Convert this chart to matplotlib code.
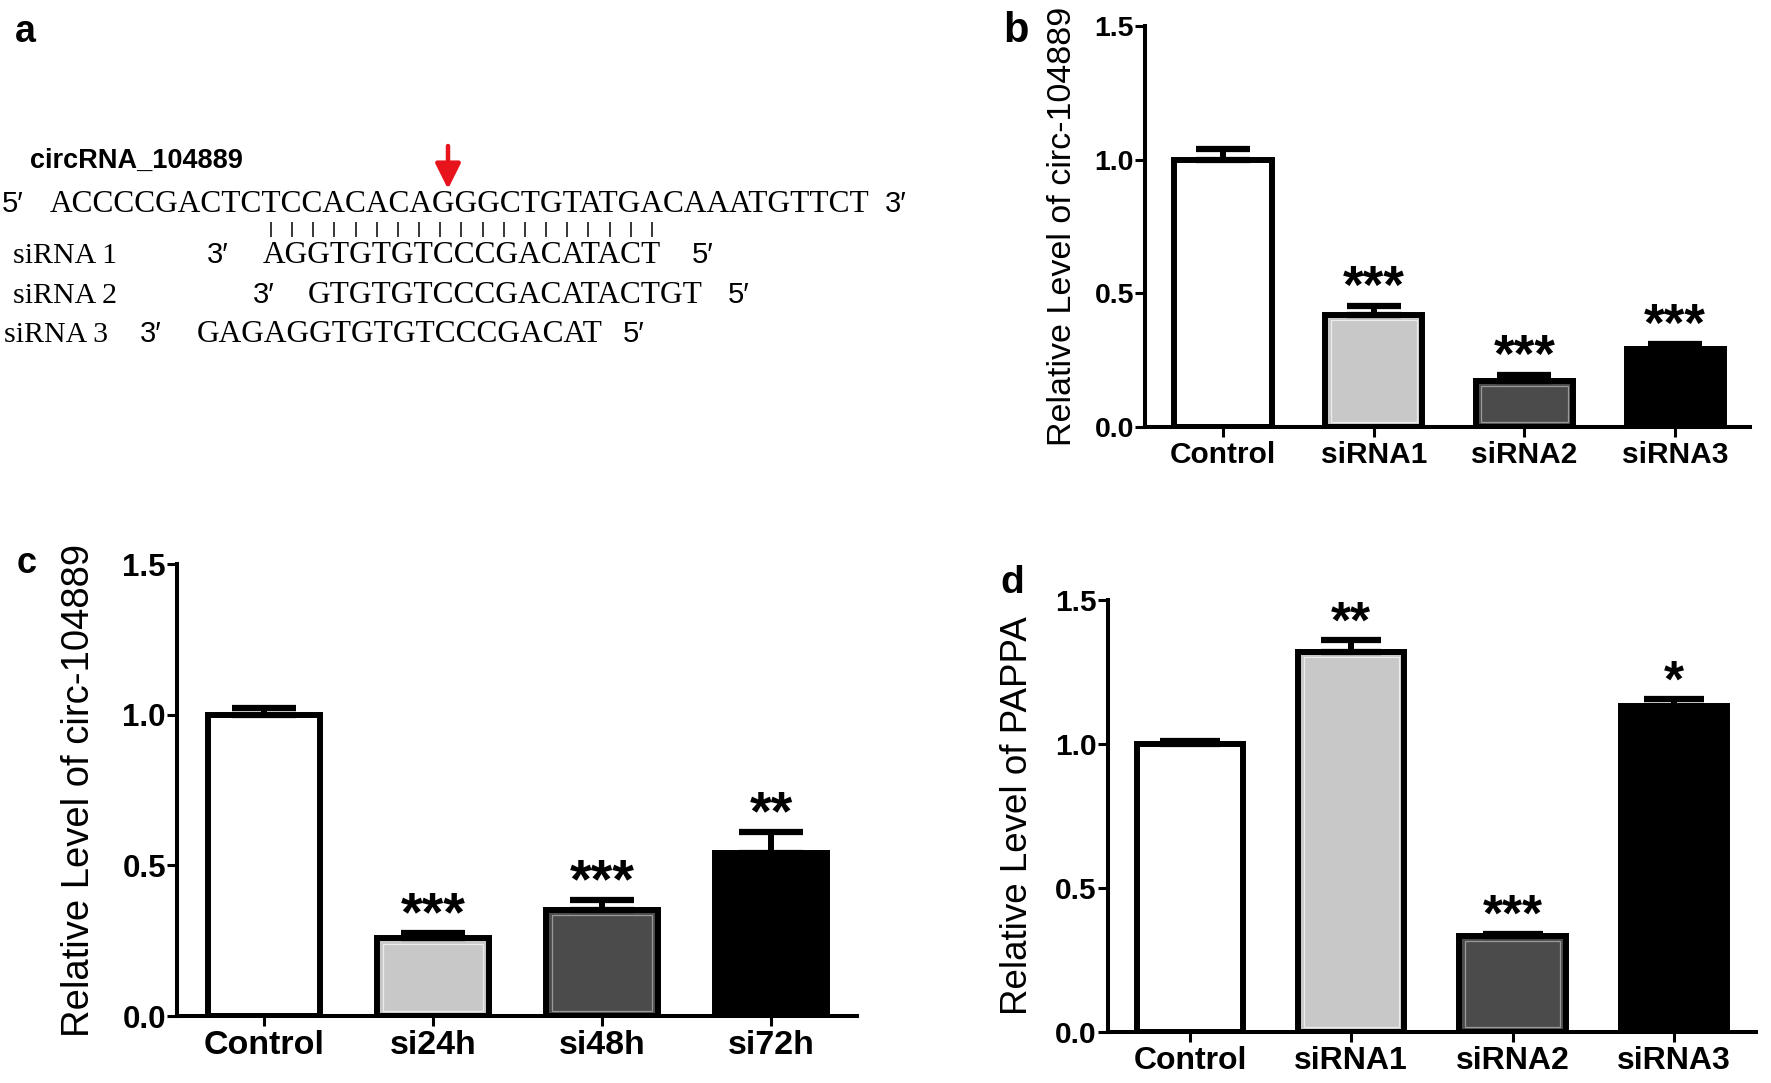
import numpy as np
import matplotlib
matplotlib.use('Agg')
import matplotlib.pyplot as plt
from matplotlib.ticker import FormatStrFormatter

plt.rcParams['font.family'] = ['Liberation Sans', 'DejaVu Sans']

W, H = 1771, 1083

# panel a: sequences
target_seq = 'ACCCCGACTCTCCACACAGGGCTGTATGACAAATGTTCT'
target_name = 'circRNA_104889'
sirna_names = ['siRNA 1', 'siRNA 2', 'siRNA 3']
sirna_seqs = ['AGGTGTGTCCCGACATACT', 'GTGTGTCCCGACATACTGT', 'GAGAGGTGTGTCCCGACAT']

# panel b: knockdown by each siRNA
b_labels = ['Control', 'siRNA1', 'siRNA2', 'siRNA3']
b_means = [1.00, 0.42, 0.173, 0.291]
b_errs = [0.04, 0.033, 0.023, 0.02]
b_stars = ['', '***', '***', '***']

# panel c: knockdown over time
c_labels = ['Control', 'si24h', 'si48h', 'si72h']
c_means = [1.00, 0.258, 0.352, 0.542]
c_errs = [0.022, 0.018, 0.032, 0.07]
c_stars = ['', '***', '***', '**']

# panel d: PAPPA level
d_labels = ['Control', 'siRNA1', 'siRNA2', 'siRNA3']
d_means = [1.00, 1.32, 0.334, 1.133]
d_errs = [0.01, 0.04, 0.007, 0.022]
d_stars = ['', '**', '***', '*']

bar_colors = ['white', '#c8c8c8', '#4b4b4b', 'black']
# faint inner outline seen inside the grey bars
inner_colors = ['none', '#ececec', '#9a9a9a', 'none']

fig = plt.figure(figsize=(W / 100, H / 100), dpi=100)

# pixel-space overlay for panel a and panel letters
ov = fig.add_axes([0, 0, 1, 1])
ov.set_xlim(0, W)
ov.set_ylim(H, 0)
ov.axis('off')


def px_axes(left, right, top, bottom):
    return fig.add_axes([left / W, 1 - bottom / H, (right - left) / W, (bottom - top) / H])


def bar_panel(ax, labels, means, errs, stars, xlim, width, capsize,
              ytick_fs, xtick_fs, ylabel_fs, ylabel, star_fs, label_x):
    x = np.arange(len(labels))
    ax.set_xlim(*xlim)
    ax.set_ylim(0, 1.5)
    ax.bar(x, means, width=width, color=bar_colors, edgecolor='black',
           linewidth=4.3, zorder=2)

    # thin light line a few pixels inside the black border
    px_x = ax.bbox.width / (xlim[1] - xlim[0])
    px_y = ax.bbox.height / 1.5
    ix, iy = 5.5 / px_x, 5.5 / px_y
    for xi, m, c in zip(x, means, inner_colors):
        if c != 'none':
            ax.bar(xi, m - 2 * iy, width=width - 2 * ix, bottom=iy, fill=False,
                   edgecolor=c, linewidth=0.9, zorder=2.5)

    ax.errorbar(x, means, yerr=[np.zeros(len(errs)), errs], fmt='none',
                ecolor='black', elinewidth=4.3, capsize=capsize, capthick=4.5,
                zorder=3)
    for xi, m, e, s in zip(x, means, errs, stars):
        if s:
            ax.annotate(s, (xi, m + e), xytext=(0, 2), textcoords='offset points',
                        ha='center', va='baseline', fontsize=star_fs,
                        fontweight='bold', annotation_clip=False)
    ax.set_yticks([0, 0.5, 1.0, 1.5])
    ax.yaxis.set_major_formatter(FormatStrFormatter('%.1f'))
    ax.set_xticks(x)
    ax.set_xticklabels(labels)
    for sp in ['top', 'right']:
        ax.spines[sp].set_visible(False)
    for sp in ['left', 'bottom']:
        ax.spines[sp].set_linewidth(2.9)
    ax.tick_params(axis='both', width=2.2, length=7, direction='out')
    ax.tick_params(axis='y', pad=1, labelsize=ytick_fs)
    ax.tick_params(axis='x', pad=3, labelsize=xtick_fs)
    for lbl in ax.get_xticklabels() + ax.get_yticklabels():
        lbl.set_fontweight('bold')
    ax.set_ylabel(ylabel, fontsize=ylabel_fs)
    ax.yaxis.set_label_coords(label_x, 0.5)
    ax.patch.set_alpha(0)


ax_b = px_axes(1145, 1750, 26, 427)
bar_panel(ax_b, b_labels, b_means, b_errs, b_stars, (-0.518, 3.497), 0.645, 19.4,
          20.5, 21.5, 24.5, 'Relative Level of circ-104889', 38, -0.11)

ax_c = px_axes(177, 857, 564, 1016)
bar_panel(ax_c, c_labels, c_means, c_errs, c_stars, (-0.515, 3.509), 0.66, 23,
          22.5, 24.5, 27.5, 'Relative Level of circ-104889', 40, -0.118)

ax_d = px_axes(1108, 1756, 600, 1032)
bar_panel(ax_d, d_labels, d_means, d_errs, d_stars, (-0.508, 3.509), 0.66, 21.6,
          21.5, 23, 26.5, 'Relative Level of PAPPA', 37, -0.113)

# panel letters
ov.text(15, 42, 'a', fontsize=27, fontweight='bold')
ov.text(1003, 42, 'b', fontsize=30, fontweight='bold')
ov.text(17, 573, 'c', fontsize=26, fontweight='bold')
ov.text(1000, 593, 'd', fontsize=28, fontweight='bold')

# panel a: target sequence
serif = ['Liberation Serif', 'DejaVu Serif']
ov.text(30, 168, target_name, fontsize=19.5, fontweight='bold')
ov.text(2, 212, '5\u2032', fontsize=21)
ov.text(50, 212, target_seq, fontsize=22.6, family=serif)
ov.text(885, 212, '3\u2032', fontsize=21)

# cleavage site arrow
ov.annotate('', xy=(448, 189), xytext=(448, 146),
            arrowprops=dict(arrowstyle='-|>,head_length=0.7,head_width=0.35',
                            color='#e8141c', lw=3.2, mutation_scale=22,
                            shrinkA=0, shrinkB=0))

# base-pairing ticks under siRNA 1
pair_x = np.linspace(271, 652, len(sirna_seqs[0]))
ov.vlines(pair_x, 222, 237, color='black', lw=1.1)

# siRNA rows
row_base = [263, 303, 342]
name_x = [13, 13, 4]
three_x = [207, 253, 140]
seq_x = [263, 308, 197]
five_x = [692, 728, 623]
for name, seq, yb, nx, tx, sx, fx in zip(sirna_names, sirna_seqs, row_base,
                                          name_x, three_x, seq_x, five_x):
    ov.text(nx, yb, name, fontsize=21.5, family=serif)
    ov.text(tx, yb, '3\u2032', fontsize=21)
    ov.text(sx, yb, seq, fontsize=22.6, family=serif)
    ov.text(fx, yb, '5\u2032', fontsize=21)

fig.savefig('out.png', dpi=100, facecolor='white')
